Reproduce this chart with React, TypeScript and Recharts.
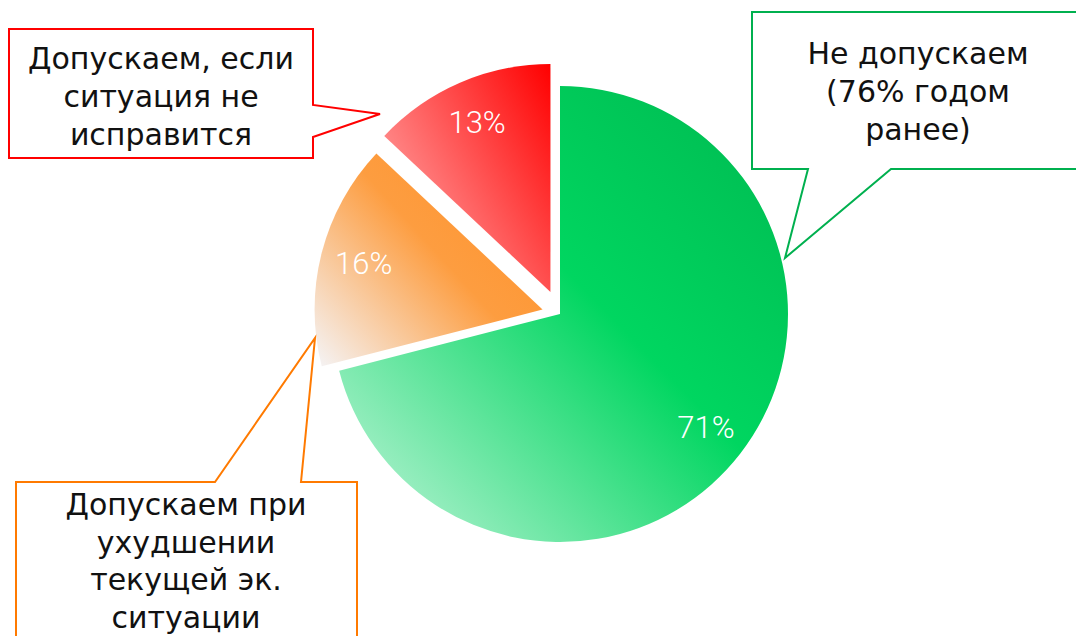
import { PieChart, Pie, Cell } from "recharts";

// answers, clockwise from 12 o'clock
const categories = [
  "Не допускаем",
  "Допускаем при ухудшении текущей эк. ситуации",
  "Допускаем, если ситуация не исправится",
];
const shares = [71, 16, 13];

// callout texts, line by line
const greenCallout = ["Не допускаем", "(76% годом", "ранее)"];
const orangeCallout = ["Допускаем при", "ухудшении", "текущей эк.", "ситуации"];
const redCallout = ["Допускаем, если", "ситуация не", "исправится"];

const rows = categories.map((name, i) => ({ name, value: shares[i] }));

const W = 1076;
const H = 636;
const CX = 560;
const CY = 314;
const R = 228;
const RADIAN = Math.PI / 180;
const pull = [0, 18, 24];
const total = shares.reduce((a, b) => a + b, 0);

const midAngles = shares.map((v, i) => {
  const before = shares.slice(0, i).reduce((a, b) => a + b, 0);
  return 90 - (360 * (before + v / 2)) / total;
});

const textFont = "'DejaVu Sans', sans-serif";

function Callout({
  points,
  color,
  lines,
  x,
  y0,
  step,
}: {
  points: string;
  color: string;
  lines: string[];
  x: number;
  y0: number;
  step: number;
}) {
  return (
    <g>
      <polygon points={points} fill="#fff" stroke={color} strokeWidth={2} />
      {lines.map((t, i) => (
        <text
          key={t}
          x={x}
          y={y0 + i * step}
          textAnchor="middle"
          fontFamily={textFont}
          fontSize={30}
          fill="#111"
        >
          {t}
        </text>
      ))}
    </g>
  );
}

export default function App() {
  const renderLabel = (k: number) => (props: any) => {
    if (props.index !== k) return <g />;
    const r = R * 0.81;
    const x = props.cx + r * Math.cos(-props.midAngle * RADIAN);
    const y = props.cy + r * Math.sin(-props.midAngle * RADIAN);
    return (
      <text
        x={x}
        y={y}
        fill="#fff"
        textAnchor="middle"
        dominantBaseline="central"
        fontFamily="Roboto, sans-serif"
        fontWeight={300}
        fontSize={31}
      >
        {`${props.value}%`}
      </text>
    );
  };

  return (
    <div style={{ position: "absolute", left: 0, top: 0, width: W, height: H, background: "#fff" }}>
      <PieChart width={W} height={H} margin={{ top: 0, right: 0, bottom: 0, left: 0 }}>
        <defs>
          <linearGradient id="g0" x1="1" y1="0" x2="0" y2="1">
            <stop offset="0%" stopColor="#00b950" />
            <stop offset="45%" stopColor="#00d660" />
            <stop offset="100%" stopColor="#c8f5de" />
          </linearGradient>
          <linearGradient id="g1" x1="1" y1="0.1" x2="0" y2="0.95">
            <stop offset="0%" stopColor="#ff922c" />
            <stop offset="45%" stopColor="#fd9d40" />
            <stop offset="100%" stopColor="#f5f1f0" />
          </linearGradient>
          <linearGradient id="g2" x1="1" y1="0" x2="0" y2="0.75">
            <stop offset="0%" stopColor="#ff0000" />
            <stop offset="100%" stopColor="#ffa6a6" />
          </linearGradient>
        </defs>
        {shares.map((_, k) => {
          const d = pull[k];
          const cx = CX + d * Math.cos(midAngles[k] * RADIAN);
          const cy = CY - d * Math.sin(midAngles[k] * RADIAN);
          return (
            <Pie
              key={k}
              data={rows}
              dataKey="value"
              nameKey="name"
              cx={cx}
              cy={cy}
              outerRadius={R}
              startAngle={90}
              endAngle={-270}
              stroke="none"
              labelLine={false}
              label={renderLabel(k)}
              isAnimationActive={false}
            >
              {rows.map((row, i) => (
                <Cell key={row.name} fill={i === k ? `url(#g${k})` : "none"} stroke="none" />
              ))}
            </Pie>
          );
        })}
      </PieChart>
      <svg
        width={W}
        height={H}
        style={{ position: "absolute", left: 0, top: 0, pointerEvents: "none" }}
      >
        <Callout
          points="9,29 313,29 313,105 380,114 313,137 313,158 9,158"
          color="#ff0000"
          lines={redCallout}
          x={161}
          y0={69}
          step={38}
        />
        <Callout
          points="752,12 1080,12 1080,169 891,169 785,258 808,169 752,169"
          color="#00b04f"
          lines={greenCallout}
          x={918}
          y0={64}
          step={38}
        />
        <Callout
          points="16,482 215,482 315,338 301,482 357,482 357,650 16,650"
          color="#ff7a00"
          lines={orangeCallout}
          x={186}
          y0={515}
          step={37.5}
        />
      </svg>
    </div>
  );
}
